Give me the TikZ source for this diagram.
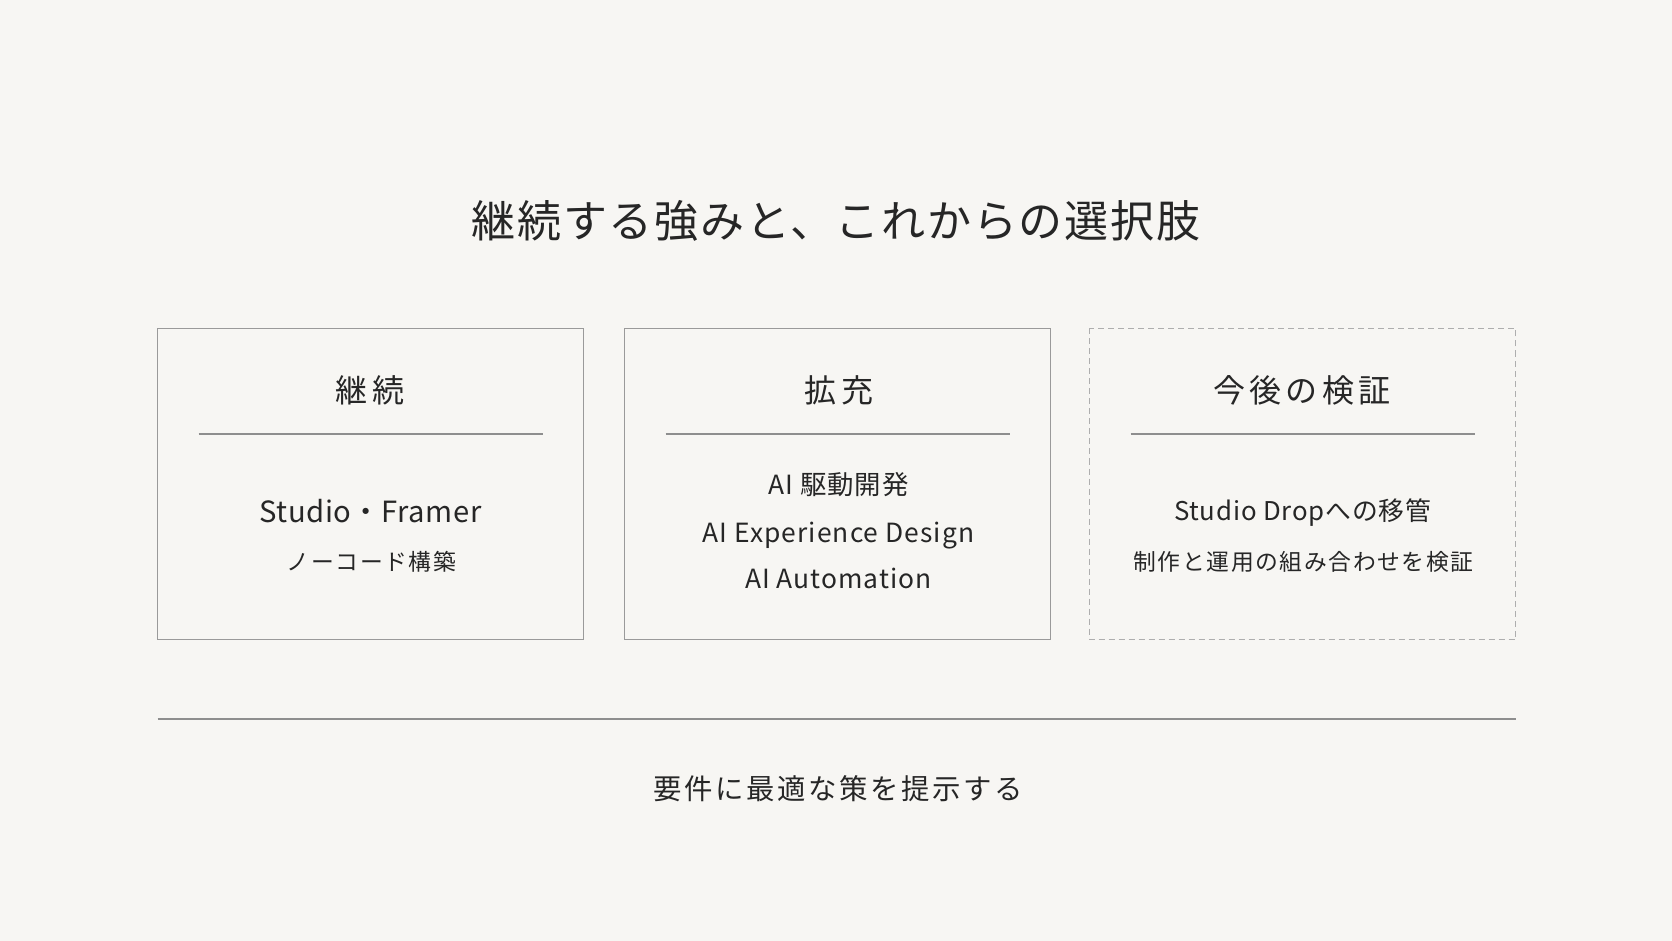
\documentclass[tikz,border=0pt]{standalone}
\usepackage{fontspec}
\setmainfont{Noto Sans CJK JP}
\newfontfamily\jpA[LetterSpace=4]{Noto Sans CJK JP}
\newfontfamily\jpB[LetterSpace=13]{Noto Sans CJK JP}
\newfontfamily\jpF[LetterSpace=9]{Noto Sans CJK JP}
\newfontfamily\jpC[LetterSpace=7]{Noto Sans CJK JP}
\newfontfamily\jpD[LetterSpace=2]{Noto Sans CJK JP}
\newfontfamily\jpE[LetterSpace=4]{Noto Sans CJK JP}
\newfontfamily\jpG[LetterSpace=3]{Noto Sans CJK JP}
\definecolor{bg}{HTML}{F7F6F3}
\definecolor{ink}{HTML}{262626}
\definecolor{frame}{HTML}{9A9A9A}
\definecolor{rule}{HTML}{8E8E8E}
\tikzset{
  px/.style={x=0.5pt,y=-0.5pt},
  card/.style={draw=frame,line width=0.7pt},
  dcard/.style={draw=frame!80,line width=0.7pt,dash pattern=on 3pt off 2pt},
  divider/.style={draw=rule,line width=0.6pt},
  maintitle/.style={text=ink,font=\jpA\fontsize{22}{26}\selectfont,inner sep=0pt},
  cardtitle/.style={text=ink,font=\jpB\fontsize{16}{18}\selectfont,inner sep=0pt},
  bigline/.style={text=ink,font=\jpD\fontsize{14.6}{18}\selectfont,inner sep=0pt},
  midline/.style={text=ink,font=\jpE\fontsize{13.2}{16}\selectfont,inner sep=0pt},
  dropline/.style={text=ink,font=\jpG\fontsize{12.9}{16}\selectfont,inner sep=0pt},
  smallline/.style={text=ink,font=\jpC\fontsize{11.4}{14}\selectfont,inner sep=0pt},
  footer/.style={text=ink,font=\jpF\fontsize{14.2}{18}\selectfont,inner sep=0pt}
}
\begin{document}
\begin{tikzpicture}[px]
\fill[bg] (0,0) rectangle (1672,941);
\useasboundingbox (0,0) rectangle (1672,941);
\node[maintitle] (title) at (836,221) {継続する強みと、これからの選択肢};
% cards
\draw[card] (157.5,328.5) rectangle (583.5,639.5);
\draw[card] (624.5,328.5) rectangle (1050.5,639.5);
\draw[dcard] (1089.5,328.5) rectangle (1515.5,639.5);
% card titles
\node[cardtitle] (t1) at (370,390) {継続};
\node[cardtitle] (t2) at (839,390) {拡充};
\node[cardtitle] (t3) at (1302,390) {今後の検証};
% dividers
\coordinate (d1a) at (198.5,434); \coordinate (d1b) at (542.5,434);
\coordinate (d2a) at (665.5,434); \coordinate (d2b) at (1009.5,434);
\coordinate (d3a) at (1130.5,434); \coordinate (d3b) at (1474.5,434);
\draw[divider] (d1a) -- (d1b);
\draw[divider] (d2a) -- (d2b);
\draw[divider] (d3a) -- (d3b);
% card 1
\node[bigline] (c1a) at (370.5,511) {Studio・Framer};
\node[smallline] (c1b) at (371.5,562) {ノーコード構築};
% card 2
\node[midline] (c2a) at (838.5,485) {AI 駆動開発};
\node[midline] (c2b) at (838.5,536) {AI Experience Design};
\node[midline] (c2c) at (838.5,578) {AI Automation};
% card 3
\node[dropline] (c3a) at (1302.5,513) {Studio Dropへの移管};
\node[smallline] (c3b) at (1303.5,562) {制作と運用の組み合わせを検証};
% bottom
\coordinate (la) at (157.5,719); \coordinate (lb) at (1515.5,719);
\draw[divider] (la) -- (lb);
\node[footer] (foot) at (838,789) {要件に最適な策を提示する};
\end{tikzpicture}
\end{document}
